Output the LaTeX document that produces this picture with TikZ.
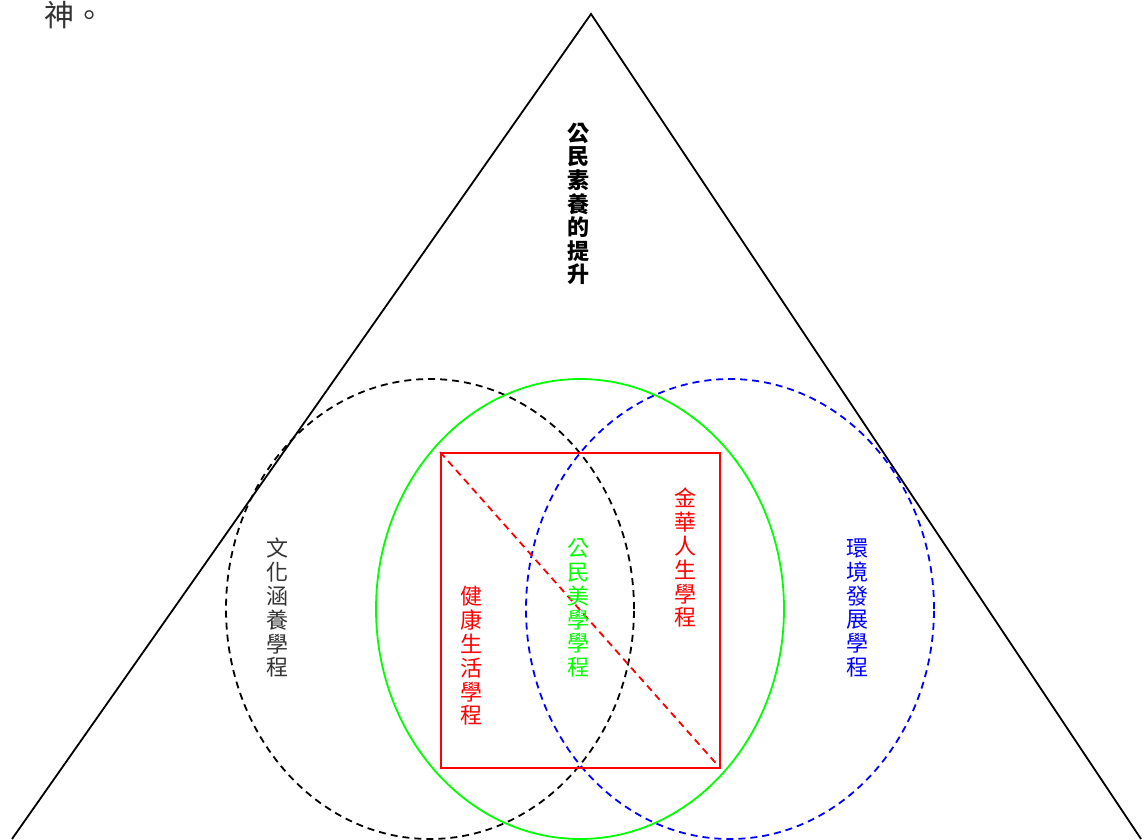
\documentclass[tikz,border=0pt]{standalone}
\usepackage{fontspec}
\usepackage{xcolor}
\usetikzlibrary{shapes.geometric}
\setmainfont{Noto Sans CJK TC}
\definecolor{CourseRed}{HTML}{FF0000}
\definecolor{CourseGreen}{HTML}{00FF00}
\definecolor{CourseBlue}{HTML}{0000FF}
\definecolor{CourseGray}{HTML}{333333}

\tikzset{
  course/.style={ellipse, inner sep=0pt, minimum width=408pt, minimum height=460pt, line width=1.8pt},
  dashline/.style={dash pattern=on 7pt off 5pt},
  vlabel/.style={align=center, inner sep=0pt, font=\fontsize{22}{23.8}\selectfont}
}

\begin{document}
\begin{tikzpicture}[x=1pt, y=-1pt]
    \clip (0,0) rectangle (1142,839);
    \fill[white] (0,0) rectangle (1142,839);

    \node[anchor=base west, inner sep=0pt, text=CourseGray, font=\fontsize{30}{30}\selectfont] (tail) at (44,26) {神。};

    % big triangle
    \coordinate (apex) at (591,14);
    \coordinate (left) at (12,839);
    \coordinate (right) at (1141,839);
    \draw[line width=1.8pt] (left) -- (apex) -- (right);

    \node[vlabel, font=\fontsize{22}{23.6}\selectfont\bfseries] (title) at (578,204) {公\\民\\素\\養\\的\\提\\升};

    % three programmes
    \node[course, draw=black, dashline] (culturering) at (430,609) {};
    \node[course, draw=CourseGreen] (civicring) at (580,609) {};
    \node[course, draw=CourseBlue, dashline] (envring) at (730,609) {};

    \node[draw=CourseRed, line width=1.8pt, inner sep=0pt, minimum width=279pt, minimum height=315pt] (box) at (580.5,610.5) {};
    \draw[CourseRed, line width=1.8pt, dashline, shorten >=6pt] (box.north west) -- (box.south east);

    \node[vlabel, text=CourseGray] (culture) at (277,608) {文\\化\\涵\\養\\學\\程};
    \node[vlabel, text=CourseRed] (health) at (471,656) {健\\康\\生\\活\\學\\程};
    \node[vlabel, text=CourseGreen] (civic) at (578,608) {公\\民\\美\\學\\學\\程};
    \node[vlabel, text=CourseRed] (jinhua) at (685,558) {金\\華\\人\\生\\學\\程};
    \node[vlabel, text=CourseBlue] (environ) at (857,608) {環\\境\\發\\展\\學\\程};
\end{tikzpicture}
\end{document}
